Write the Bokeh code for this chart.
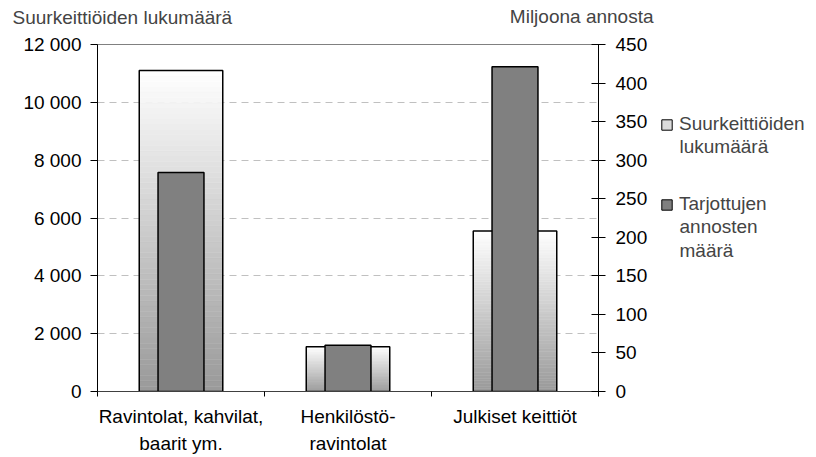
from bokeh.plotting import figure
from bokeh.models import (Range1d, LinearAxis, FixedTicker, Label, Legend, LegendItem)
from bokeh.layouts import row
from bokeh.embed import file_html
from bokeh.resources import INLINE

# ---- data ----
categories = ["Ravintolat, kahvilat,\nbaarit ym.", "Henkilöstö-\nravintolat", "Julkiset keittiöt"]
kitchens = [11100, 1550, 5550]          # Suurkeittiöiden lukumäärä (left axis)
portions = [284, 60, 421]               # Tarjottujen annosten määrä, milj. (right axis)
left_ticks = [0, 2000, 4000, 6000, 8000, 10000, 12000]
right_ticks = [0, 50, 100, 150, 200, 250, 300, 350, 400, 450]
left_title = "Suurkeittiöiden lukumäärä"
right_title = "Miljoona annosta"
legend_first = ["Suurkeittiöiden", "Tarjottujen"]
legend_rest = [["lukumäärä"], ["annosten", "määrä"]]

FONT = "Liberation Sans"
FS = "19px"
LIGHT = "#dcdcdc"
DARK = "#808080"

xpos = [i + 0.5 for i in range(len(categories))]

p = figure(width=656, height=456, output_backend="svg", toolbar_location=None,
           x_range=Range1d(0, len(categories)), y_range=Range1d(0, 12000),
           min_border_left=97, min_border_right=58, min_border_top=44, min_border_bottom=65)
p.extra_y_ranges = {"right": Range1d(0, 450)}
p.outline_line_color = "#808080"
p.outline_line_width = 1
p.background_fill_color = "white"
p.border_fill_color = "white"

# gradient-filled bars: slices computed from the values, outline on top
N = 60
gx, gb, gt, gc = [], [], [], []
for x, v in zip(xpos, kitchens):
    for i in range(N):
        f = (i + 0.5) / N
        c = int(round(153 + (255 - 153) * f))
        gx.append(x)
        gb.append(v * i / N)
        gt.append(v * (i + 1) / N)
        gc.append("#%02x%02x%02x" % (c, c, c))
p.vbar(x=gx, bottom=gb, top=gt, width=0.5, fill_color=gc, line_color=gc, line_width=0.5)
p.vbar(x=xpos, top=kitchens, width=0.5, fill_alpha=0, line_color="black", line_width=1.5)

p.vbar(x=xpos, top=portions, width=0.275, fill_color=DARK, line_color="black",
       line_width=1.5, y_range_name="right")

# axes
fmt = {v: f"{v:,}".replace(",", " ") for v in left_ticks}
ya = p.yaxis[0]
ya.ticker = FixedTicker(ticks=left_ticks)
ya.major_label_overrides = fmt
ya.major_tick_out = 7
ya.major_tick_in = 0
ya.major_label_standoff = 9

ra = LinearAxis(y_range_name="right", ticker=FixedTicker(ticks=right_ticks))
ra.major_tick_out = 7
ra.major_tick_in = 7
ra.major_label_standoff = 10
p.add_layout(ra, "right")

xa = p.xaxis[0]
xa.ticker = FixedTicker(ticks=xpos, minor_ticks=list(range(len(categories) + 1)))
xa.major_label_overrides = {x: c for x, c in zip(xpos, categories)}
xa.major_tick_out = 0
xa.major_tick_in = 0
xa.minor_tick_out = 5
xa.minor_tick_in = 0
xa.major_label_standoff = 9
xa.major_label_text_line_height = 1.3
xa.axis_line_color = "#404040"

for ax in (ya, ra, xa):
    ax.major_label_text_font = FONT
    ax.major_label_text_font_size = FS
    ax.major_label_text_color = "black"
    ax.major_tick_line_color = "black"
    ax.minor_tick_line_color = "black" if ax is xa else None

p.xgrid.grid_line_color = None
p.ygrid.ticker = FixedTicker(ticks=left_ticks[1:-1])
p.ygrid.grid_line_color = "#c0c0c0"
p.ygrid.grid_line_dash = "7 5"

# titles in the top side panels
p.add_layout(Label(x=-85, y=27, x_units="screen", y_units="screen", text=left_title,
                   text_font=FONT, text_font_size=FS, text_baseline="alphabetic", text_align="left"), "above")
p.add_layout(Label(x=556, y=7, x_units="screen", y_units="screen", text=right_title,
                   text_font=FONT, text_font_size=FS, text_baseline="alphabetic", text_align="right"), "above")

# legend figure at the right (its bars are hidden; they only supply legend swatches)
q = figure(width=152, height=456, output_backend="svg", toolbar_location=None,
           x_range=Range1d(4, 4 + len(categories)), y_range=Range1d(0, 12000),
           x_axis_type=None, y_axis_type=None,
           min_border_left=0, min_border_right=0, min_border_top=0, min_border_bottom=0)
q.outline_line_color = None
q.xgrid.grid_line_color = None
q.ygrid.grid_line_color = None
l1 = q.vbar(x=xpos, top=kitchens, width=0.5, fill_color=LIGHT, line_color="black", line_width=1)
l2 = q.vbar(x=xpos, top=portions, width=0.275, fill_color=DARK, line_color="black", line_width=1)
l1.visible = False
l2.visible = False
legend = Legend(items=[LegendItem(label=legend_first[0], renderers=[l1]),
                       LegendItem(label=legend_first[1], renderers=[l2])],
                location=(4, 176), padding=0, margin=0, spacing=58,
                glyph_width=13, glyph_height=13, label_standoff=6,
                label_text_font=FONT, label_text_font_size=FS,
                inactive_fill_alpha=0,
                border_line_alpha=0, background_fill_alpha=0)
q.add_layout(legend, "center")

# further lines of the legend texts (y = baseline above frame bottom)
rest_y = [[245], [165, 141]]
for lines, ys in zip(legend_rest, rest_y):
    for t, yy in zip(lines, ys):
        q.add_layout(Label(x=23, y=yy, x_units="screen", y_units="screen", text=t,
                           text_font=FONT, text_font_size=FS, text_baseline="alphabetic",
                           text_align="left"))

open("out.html", "w").write(file_html(row(p, q), INLINE))
